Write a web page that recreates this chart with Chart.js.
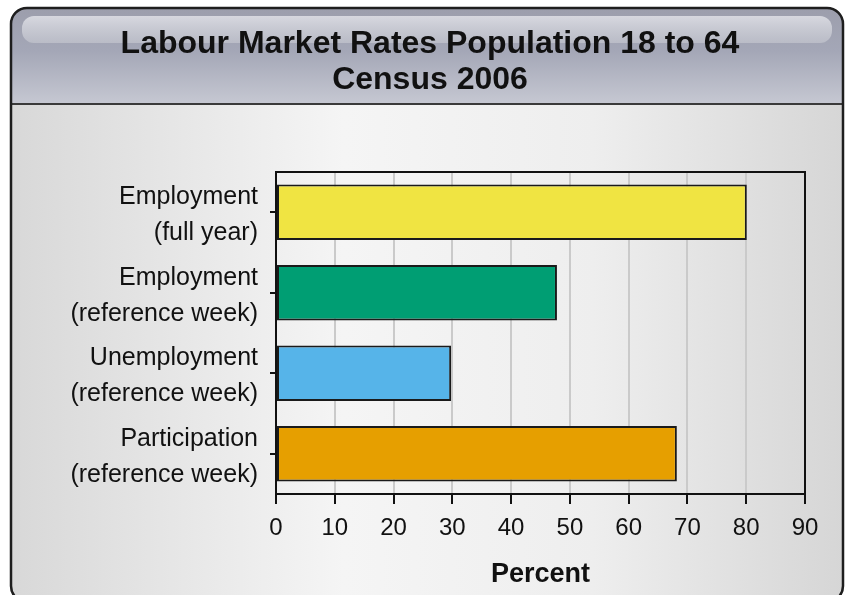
<!DOCTYPE html>
<html>
<head>
<meta charset="utf-8">
<title>Labour Market Rates Population 18 to 64</title>
<script src="https://cdn.jsdelivr.net/npm/chart.js@4.4.1/dist/chart.umd.min.js"></script>
<style>
  html, body { margin: 0; padding: 0; background: #fff; }
  canvas { display: block; }
</style>
</head>
<body>
<canvas id="labourChart" width="845" height="595"></canvas>
<script>
// data
const categories = [
  ['Employment', '(full year)'],
  ['Employment', '(reference week)'],
  ['Unemployment', '(reference week)'],
  ['Participation', '(reference week)']
];
const rates = [80.1, 47.8, 29.8, 68.2];
const barColors = ['#f0e442', '#009e73', '#56b4e9', '#e69f00'];
const axisMin = 0;
const axisMax = 90;
const axisStep = 10;
const chartTitle = ['Labour Market Rates Population 18 to 64', 'Census 2006'];
const axisTitle = 'Percent';

const sans = "'Liberation Sans', Arial, sans-serif";

function roundTop(ctx, x, y, w, h, r) {
  ctx.beginPath();
  ctx.moveTo(x, y + h);
  ctx.lineTo(x, y + r);
  ctx.quadraticCurveTo(x, y, x + r, y);
  ctx.lineTo(x + w - r, y);
  ctx.quadraticCurveTo(x + w, y, x + w, y + r);
  ctx.lineTo(x + w, y + h);
  ctx.closePath();
}

// panel, header band and body gradient behind the chart
const panelBackground = {
  id: 'panelBackground',
  afterLayout(chart) {
    // centre the title over the whole panel, not just the padded box
    const t = chart.titleBlock;
    t.left = 15;
    t.right = 845;
    t.width = 830;
  },
  beforeDraw(chart) {
    const ctx = chart.ctx;
    const L = 11, R = 843, T = 8, B = 602, HB = 104;
    ctx.save();
    ctx.fillStyle = '#fff';
    ctx.fillRect(0, 0, chart.width, chart.height);

    // body
    const body = ctx.createLinearGradient(L, 0, R, 0);
    body.addColorStop(0, '#d8d8d8');
    body.addColorStop(0.4, '#f5f5f5');
    body.addColorStop(0.7, '#eeeeee');
    body.addColorStop(1, '#d6d6d6');
    ctx.fillStyle = body;
    ctx.beginPath();
    ctx.roundRect(L, T, R - L, B - T, 16);
    ctx.fill();

    // header
    const head = ctx.createLinearGradient(0, T, 0, HB);
    head.addColorStop(0, '#9c9eac');
    head.addColorStop(0.45, '#a4a7b7');
    head.addColorStop(1, '#c6c8d2');
    ctx.fillStyle = head;
    roundTop(ctx, L, T, R - L, HB - T, 16);
    ctx.fill();

    // soft highlight near the top
    const gloss = ctx.createLinearGradient(0, 16, 0, 44);
    gloss.addColorStop(0, 'rgba(225,226,232,0.85)');
    gloss.addColorStop(1, 'rgba(200,202,210,0.6)');
    ctx.fillStyle = gloss;
    ctx.beginPath();
    ctx.roundRect(22, 16, R - L - 22, 27, 12);
    ctx.fill();

    // header bottom line
    ctx.strokeStyle = '#3a3a3a';
    ctx.lineWidth = 2;
    ctx.beginPath();
    ctx.moveTo(L, HB);
    ctx.lineTo(R, HB);
    ctx.stroke();

    // outer border
    ctx.strokeStyle = '#1e1e1e';
    ctx.lineWidth = 2.5;
    ctx.beginPath();
    ctx.roundRect(L, T, R - L, B - T, 16);
    ctx.stroke();
    ctx.restore();
  }
};

// closes the plot frame on the top and right
const plotFrame = {
  id: 'plotFrame',
  afterDraw(chart) {
    const a = chart.chartArea;
    const ctx = chart.ctx;
    ctx.save();
    ctx.strokeStyle = '#111';
    ctx.lineWidth = 2;
    ctx.strokeRect(a.left, a.top, a.right - a.left, a.bottom - a.top);
    ctx.restore();
  }
};

new Chart(document.getElementById('labourChart'), {
  type: 'bar',
  data: {
    labels: categories,
    datasets: [{
      data: rates,
      backgroundColor: barColors,
      borderColor: '#1a1a1a',
      borderWidth: 2,
      borderSkipped: false,
      barPercentage: 0.69,
      categoryPercentage: 1
    }]
  },
  options: {
    indexAxis: 'y',
    responsive: false,
    animation: false,
    layout: { padding: { left: 0, right: 40, top: 0, bottom: 0 } },
    plugins: {
      legend: { display: false },
      tooltip: { enabled: false },
      title: {
        display: true,
        text: chartTitle,
        color: '#111',
        font: { family: sans, size: 32, weight: 'bold', lineHeight: 1.125 },
        padding: { top: 26, bottom: 74 }
      }
    },
    scales: {
      x: {
        min: axisMin,
        max: axisMax,
        ticks: {
          stepSize: axisStep,
          color: '#111',
          padding: 10,
          font: { family: sans, size: 24 }
        },
        grid: {
          color: '#cacaca',
          lineWidth: 2,
          tickColor: '#111',
          tickLength: 10
        },
        border: { display: true, color: '#111', width: 2 },
        title: {
          display: true,
          text: axisTitle,
          color: '#111',
          font: { family: sans, size: 27, weight: 'bold' },
          padding: { top: 0, bottom: 4 }
        },
        afterFit(scale) { scale.height = 101; }
      },
      y: {
        ticks: {
          color: '#111',
          padding: 12,
          labelOffset: 3,
          font: { family: sans, size: 25, lineHeight: 1.44 }
        },
        grid: {
          offset: false,
          drawOnChartArea: false,
          tickColor: '#111',
          tickLength: 6,
          lineWidth: 2
        },
        border: { display: true, color: '#111', width: 2 },
        afterFit(scale) { scale.width = 276; }
      }
    }
  },
  plugins: [panelBackground, plotFrame]
});
</script>
</body>
</html>
